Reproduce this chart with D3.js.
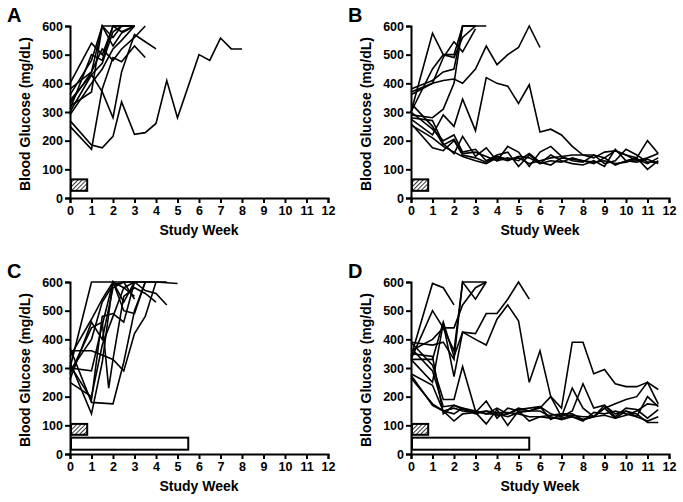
<!DOCTYPE html>
<html>
<head>
<meta charset="utf-8">
<script src="https://cdn.jsdelivr.net/npm/d3@7"></script>
<style>
  body { margin: 0; background: #fff; }
  text { font-family: "Liberation Sans", Arial, sans-serif; font-weight: bold; }
</style>
</head>
<body>
<script>
// weeks / glucose pairs, one array per animal
const panelA = [
  [[0,270],[1,185],[1.5,175],[2,215],[2.4,335],[3,222],[3.5,228],[4,260],[4.5,410],[5,280],[6,500],[6.5,480],[7,558],[7.5,520],[8,520]],
  [[0,250],[1,170],[1.5,380],[2,490],[2.4,475],[3,530],[3.5,490]],
  [[0,300],[1,430],[1.5,370],[2,280],[2.4,440],[3,570],[3.5,545],[4,520]],
  [[0,400],[1,540],[1.5,500],[2,600],[2.4,600],[3,600]],
  [[0,380],[1,440],[1.5,600],[2,600],[2.4,580],[3,600]],
  [[0,340],[1,430],[1.5,470],[2,580],[2.4,600],[3,600]],
  [[0,320],[1,370],[1.5,600],[2,530],[2.4,575],[3,600]],
  [[0,310],[1,500],[1.5,480],[2,600],[2.4,600],[3,600]],
  [[0,330],[1,440],[1.5,520],[2,480],[2.4,520],[3,560],[3.5,600]],
  [[0,290],[1,400],[1.5,450],[2,520],[2.4,550],[3,600]],
  [[0,360],[1,480],[1.5,600],[2,560],[2.4,600]]
];

const panelB = [
  [[0,300],[1,575],[1.5,500],[2,500],[2.4,600],[3,600],[3.5,600]],
  [[0,370],[1,400],[1.5,490],[2,545],[2.4,510],[3,590]],
  [[0,380],[1,410],[1.5,440],[2,450],[2.4,600],[3,600]],
  [[0,300],[1,450],[1.5,500],[2,490],[2.4,560],[3,600]],
  [[0,360],[1,400],[1.5,410],[2,415],[2.4,400],[3,450],[3.5,530],[4,465],[4.5,500],[5,525],[5.5,600],[6,525]],
  [[0,290],[1,280],[1.5,310],[2,400],[2.4,600],[3,600]],
  [[0,275],[1,220],[1.5,290],[2,250],[2.4,345],[3,235],[3.5,420],[4,400],[4.5,390],[5,330],[5.5,395],[6,230],[6.5,240],[7,220],[7.5,180],[8,150],[8.5,150],[9,140],[9.5,165],[10,150],[10.5,140],[11,200],[11.5,155]],
  [[0,260],[1,175],[1.5,165],[2,200],[2.4,150],[3,140],[3.5,125],[4,145],[4.5,135],[5,140],[5.5,120],[6,130],[6.5,140],[7,145],[7.5,150],[8,150],[8.5,140],[9,160],[9.5,165],[10,150],[10.5,130],[11,140],[11.5,155]],
  [[0,300],[1,240],[1.5,200],[2,220],[2.4,160],[3,170],[3.5,130],[4,150],[4.5,160],[5,110],[5.5,150],[6,120],[6.5,150],[7,130],[7.5,120],[8,115],[8.5,130],[9,110],[9.5,170],[10,130],[10.5,140],[11,100],[11.5,130]],
  [[0,330],[1,250],[1.5,185],[2,205],[2.4,155],[3,160],[3.5,145],[4,130],[4.5,180],[5,160],[5.5,110],[6,160],[6.5,180],[7,145],[7.5,130],[8,125],[8.5,150],[9,120],[9.5,130],[10,170],[10.5,150],[11,125],[11.5,125]],
  [[0,280],[1,270],[1.5,190],[2,155],[2.4,215],[3,145],[3.5,175],[4,130],[4.5,140],[5,130],[5.5,155],[6,125],[6.5,115],[7,140],[7.5,135],[8,130],[8.5,120],[9,140],[9.5,115],[10,130],[10.5,125],[11,135],[11.5,120]],
  [[0,255],[1,210],[1.5,180],[2,160],[2.4,145],[3,130],[3.5,120],[4,140],[4.5,130],[5,145],[5.5,140],[6,120],[6.5,130],[7,125],[7.5,140],[8,130],[8.5,125],[9,130],[9.5,120],[10,125],[10.5,135],[11,120],[11.5,140]]
];

const panelC = [
  [[0,300],[1,600],[2,600],[3,600],[4,600],[5,595]],
  [[0,360],[1,360],[2,330],[2.5,290],[3,420],[3.5,480],[4,600],[4.5,600]],
  [[0,370],[1,180],[2,175],[2.5,320],[3,500],[3.5,600],[4,600]],
  [[0,320],[1,140],[1.5,320],[2,600],[2.5,580],[3,550]],
  [[0,260],[1,460],[1.5,400],[2,580],[2.5,600],[3,540]],
  [[0,300],[1,290],[1.5,450],[2,600],[2.5,530],[3,600]],
  [[0,280],[1,440],[1.5,460],[1.8,230],[2,330],[2.5,550],[3,580],[3.5,560],[4,530]],
  [[0,310],[1,190],[1.5,480],[2,490],[2.5,460],[3,600],[3.5,600]],
  [[0,340],[1,470],[1.5,540],[2,600],[2.5,500],[3,490],[3.5,600]],
  [[0,250],[1,200],[1.5,380],[2,480],[2.5,580],[3,600],[3.5,570],[4,560],[4.5,520]],
  [[0,290],[1,400],[1.5,530],[2,590],[2.5,600],[3,600]]
];

const panelD = [
  [[0,340],[1,595],[1.5,580],[2,520]],
  [[0,330],[1,500],[1.5,440],[2,360],[2.4,600],[3,600],[3.5,600]],
  [[0,360],[1,400],[1.5,440],[2,440],[2.4,520],[3,580],[3.5,600]],
  [[0,330],[1,330],[1.5,460],[2,340],[2.4,425],[3,420],[3.5,490],[4,490],[4.5,540],[5,600],[5.5,540]],
  [[0,390],[1,380],[1.5,390],[2,330],[2.4,600],[3,540],[3.5,600]],
  [[0,330],[1,250],[1.5,455],[2,270],[2.4,425],[3,400],[3.5,380],[4,470],[4.5,520],[5,465],[5.5,250],[6,360],[6.5,200],[7,160],[7.5,390],[8,390],[8.5,280],[9,295],[9.5,245],[10,235],[10.5,235],[11,250],[11.5,225]],
  [[0,390],[1,310],[1.5,190],[2,190],[2.4,305],[3,150],[3.5,140],[4,160],[4.5,140],[5,155],[5.5,160],[6,165],[6.5,140],[7,130],[7.5,230],[8,160],[8.5,130],[9,160],[9.5,175],[10,190],[10.5,200],[11,250],[11.5,175]],
  [[0,275],[1,170],[1.5,150],[2,115],[2.4,140],[3,145],[3.5,105],[4,155],[4.5,100],[5,150],[5.5,115],[6,130],[6.5,125],[7,125],[7.5,135],[8,130],[8.5,130],[9,160],[9.5,125],[10,150],[10.5,140],[11,110],[11.5,110]],
  [[0,265],[1,175],[1.5,150],[2,160],[2.4,150],[3,145],[3.5,185],[4,125],[4.5,160],[5,150],[5.5,150],[6,165],[6.5,120],[7,140],[7.5,140],[8,120],[8.5,130],[9,170],[9.5,140],[10,150],[10.5,130],[11,200],[11.5,165]],
  [[0,280],[1,240],[1.5,150],[2,140],[2.4,160],[3,140],[3.5,150],[4,135],[4.5,140],[5,160],[5.5,150],[6,160],[6.5,200],[7,130],[7.5,150],[8,245],[8.5,160],[9,170],[9.5,130],[10,160],[10.5,155],[11,125],[11.5,155]],
  [[0,370],[1,290],[1.5,165],[2,170],[2.4,160],[3,150],[3.5,140],[4,140],[4.5,130],[5,145],[5.5,150],[6,150],[6.5,130],[7,120],[7.5,130],[8,115],[8.5,145],[9,140],[9.5,150],[10,140],[10.5,130],[11,115],[11.5,130]],
  [[0,350],[1,340],[1.5,140],[2,170],[2.4,155],[3,145],[3.5,150],[4,145],[4.5,145],[5,140],[5.5,130],[6,130],[6.5,135],[7,140],[7.5,130],[8,120],[8.5,130],[9,135],[9.5,125],[10,135],[10.5,150],[11,175],[11.5,170]]
];

const xTicks = [0,1,2,3,4,5,6,7,8,9,10,11,12];
const yTicks = [0,100,200,300,400,500,600];

// treatment bars: [startWeek, endWeek, low, high, hatched]
const barsAB = [[0, 0.8, 25, 65, true]];
const barsCD = [[0, 0.8, 67, 105, true], [0, 5.5, 15, 57, false]];

const panels = [
  { letter: "A", data: panelA, bars: barsAB, ox: 70,  oy: 26 },
  { letter: "B", data: panelB, bars: barsAB, ox: 411, oy: 26 },
  { letter: "C", data: panelC, bars: barsCD, ox: 70,  oy: 282 },
  { letter: "D", data: panelD, bars: barsCD, ox: 411, oy: 282 }
];

const W = 258, H = 172;

const svg = d3.select("body").append("svg")
  .attr("width", 683).attr("height", 502);

const defs = svg.append("defs");
const pat = defs.append("pattern")
  .attr("id", "hatch")
  .attr("patternUnits", "userSpaceOnUse")
  .attr("width", 3).attr("height", 3)
  .attr("patternTransform", "rotate(45)");
pat.append("rect").attr("width", 3).attr("height", 3).attr("fill", "#fff");
pat.append("line").attr("x1", 0).attr("y1", 0).attr("x2", 0).attr("y2", 3)
  .attr("stroke", "#111").attr("stroke-width", 1.7);

const x = d3.scaleLinear().domain([0, 12]).range([0, W]);
const y = d3.scaleLinear().domain([0, 600]).range([H, 0]);

const line = d3.line()
  .x(d => x(d[0]))
  .y(d => y(d[1]));

panels.forEach(p => {
  const g = svg.append("g").attr("transform", `translate(${p.ox},${p.oy})`);

  g.selectAll("path.series")
    .data(p.data)
    .enter()
    .append("path")
    .attr("class", "series")
    .attr("d", line)
    .attr("fill", "none")
    .attr("stroke", "#000")
    .attr("stroke-width", 1.6)
    .attr("stroke-linejoin", "miter");

  g.selectAll("rect.bar")
    .data(p.bars)
    .enter()
    .append("rect")
    .attr("class", "bar")
    .attr("x", d => x(d[0]) + 1)
    .attr("y", d => y(d[3]))
    .attr("width", d => x(d[1]) - x(d[0]) - 1)
    .attr("height", d => y(d[2]) - y(d[3]))
    .attr("fill", d => d[4] ? "url(#hatch)" : "#fff")
    .attr("stroke", "#000")
    .attr("stroke-width", 2);

  const xa = g.append("g")
    .attr("transform", `translate(0,${H})`)
    .call(d3.axisBottom(x).tickValues(xTicks).tickSize(5).tickPadding(3));
  const ya = g.append("g")
    .call(d3.axisLeft(y).tickValues(yTicks).tickSize(5).tickPadding(2));

  [xa, ya].forEach(a => {
    a.select(".domain").attr("stroke-width", 2).attr("stroke", "#000");
    a.selectAll(".tick line").attr("stroke-width", 2).attr("stroke", "#000");
    a.selectAll(".tick text")
      .attr("fill", "#000")
      .style("font-size", "12.5px")
      .style("font-family", "'Liberation Sans', Arial, sans-serif")
      .style("font-weight", "bold");
  });

  g.append("text")
    .attr("x", W / 2).attr("y", H + 37)
    .attr("text-anchor", "middle")
    .style("font-size", "14px")
    .text("Study Week");

  g.append("text")
    .attr("transform", `translate(-40,${H / 2 + 2}) rotate(-90)`)
    .attr("text-anchor", "middle")
    .style("font-size", "14px")
    .text("Blood Glucose (mg/dL)");

  g.append("text")
    .attr("x", -63).attr("y", -4)
    .style("font-size", "20px")
    .text(p.letter);
});
</script>
</body>
</html>
